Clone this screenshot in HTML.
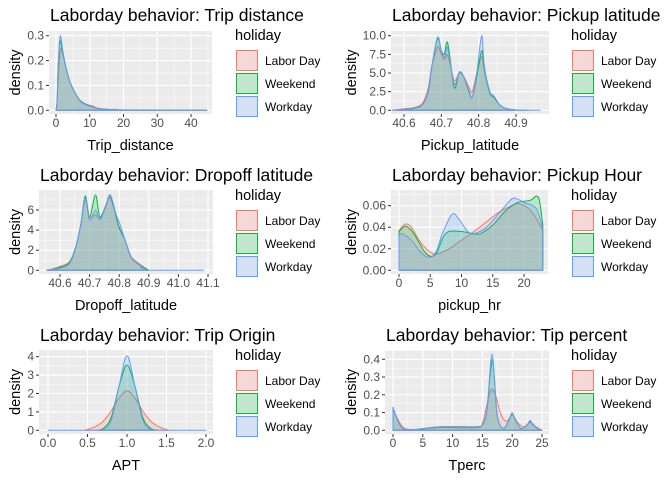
<!DOCTYPE html>
<html><head><meta charset="utf-8"><style>
html,body{margin:0;padding:0;background:#fff}
svg{display:block;font-family:"Liberation Sans",Arial,sans-serif}
</style></head><body>
<svg id="c" width="672" height="480" viewBox="0 0 672 480"></svg>
<script>
// ---- data ----
const tripLabor=[[0,0],[0.3,0.04],[0.7,0.14],[1.1,0.22],[1.5,0.25],[2,0.23],[3,0.17],[4,0.12],[5,0.085],[6,0.06],[7,0.042],[8,0.03],[10,0.02],[11,0.018],[12,0.01],[15,0.004],[18,0.004],[19,0.002],[44.7,0]];
const tripWeekend=[[0,0],[0.3,0.03],[0.6,0.16],[1,0.26],[1.3,0.28],[1.6,0.26],[2,0.23],[3,0.17],[4,0.12],[5,0.088],[6,0.062],[7,0.042],[8,0.03],[10,0.017],[12,0.009],[15,0.004],[20,0.001],[44.7,0]];
const tripWorkday=[[0,0],[0.3,0.03],[0.6,0.16],[1,0.27],[1.3,0.30],[1.6,0.28],[2,0.24],[3,0.17],[4,0.12],[5,0.085],[6,0.06],[7,0.04],[8,0.028],[10,0.016],[12,0.009],[15,0.004],[20,0.001],[30,0],[44.7,0]];
const pickLabor=[[40.57,0],[40.6,0.2],[40.63,0.4],[40.65,1],[40.665,3],[40.675,6],[40.69,8.5],[40.70,7.5],[40.708,6.8],[40.715,7.5],[40.722,6.5],[40.735,4],[40.748,5],[40.76,4.5],[40.775,3],[40.783,2.5],[40.795,5],[40.808,7.2],[40.815,5.5],[40.83,2.3],[40.84,1.8],[40.855,0.8],[40.87,0.3],[40.895,0]];
const pickWeekend=[[40.57,0],[40.6,0.1],[40.63,0.3],[40.65,0.8],[40.665,2.5],[40.675,6],[40.69,9.6],[40.70,8],[40.708,7.5],[40.715,9.2],[40.722,7.5],[40.735,3],[40.748,5.1],[40.76,4.5],[40.775,2.3],[40.783,1.8],[40.795,4.5],[40.808,8],[40.815,5.5],[40.83,2.3],[40.84,1.8],[40.855,0.8],[40.87,0.3],[40.9,0.03],[40.93,0]];
const pickWorkday=[[40.57,0],[40.6,0.1],[40.63,0.3],[40.65,0.8],[40.665,2.5],[40.675,6],[40.69,9.8],[40.70,8],[40.708,7],[40.715,8.5],[40.722,7],[40.735,3.5],[40.748,5.1],[40.76,4.5],[40.775,2.5],[40.783,1.8],[40.795,5],[40.808,10],[40.815,6],[40.83,2.5],[40.84,2],[40.855,0.8],[40.87,0.3],[40.9,0.05],[40.965,0]];
const dropLabor=[[40.555,0],[40.58,0.2],[40.6,0.4],[40.63,0.8],[40.65,2],[40.67,4.5],[40.685,7],[40.70,5.3],[40.72,5.5],[40.735,5.2],[40.755,6.4],[40.77,7.2],[40.79,5.3],[40.8,4.3],[40.82,3],[40.84,1.4],[40.87,0.6],[40.9,0]];
const dropWeekend=[[40.555,0],[40.58,0.1],[40.6,0.3],[40.63,0.7],[40.65,2],[40.67,4.5],[40.685,7.4],[40.70,5.3],[40.72,7.5],[40.735,5.3],[40.755,6.5],[40.77,7.4],[40.79,5.3],[40.8,4.2],[40.82,3],[40.84,1.3],[40.87,0.5],[40.9,0]];
const dropWorkday=[[40.555,0],[40.58,0.1],[40.6,0.2],[40.63,0.6],[40.65,1.9],[40.67,4.5],[40.685,7.2],[40.70,5],[40.72,6],[40.735,5],[40.755,6.4],[40.77,7.5],[40.79,5.5],[40.8,4.8],[40.82,3],[40.84,1.3],[40.87,0.5],[40.9,0],[41.085,0]];
const hrLabor=[[0,0.037],[1,0.043],[2,0.040],[3,0.030],[4,0.022],[5,0.017],[6,0.015],[8,0.020],[10,0.028],[12,0.036],[14,0.045],[16,0.054],[18,0.060],[19,0.062],[20,0.060],[21,0.056],[22,0.048],[23,0.037]];
const hrWeekend=[[0,0.036],[1,0.041],[2,0.037],[3,0.028],[4,0.018],[5,0.013],[6,0.016],[7,0.030],[8,0.036],[10,0.036],[12,0.034],[13,0.034],[15,0.042],[17,0.055],[19,0.063],[21,0.065],[22,0.069],[22.5,0.064],[23,0.042]];
const hrWorkday=[[0,0.032],[0.5,0.034],[2,0.028],[3,0.020],[4,0.014],[5,0.012],[6,0.018],[7,0.035],[8.5,0.052],[9.5,0.048],[11,0.036],[12,0.034],[14,0.040],[16,0.053],[18,0.066],[19,0.066],[20,0.063],[22,0.057],[23,0.038]];
const aptLabor=[[0.47,0],[0.5,0.05],[0.6,0.2],[0.7,0.5],[0.8,1.05],[0.9,1.75],[1,2.15],[1.1,1.75],[1.2,1.05],[1.3,0.5],[1.4,0.2],[1.5,0.05],[1.53,0]];
const aptWeekend=[[0.62,0],[0.7,0.1],[0.8,0.7],[0.9,2.4],[1,3.55],[1.1,2.4],[1.2,0.7],[1.3,0.1],[1.38,0]];
const aptWorkday=[[0,0],[0.65,0],[0.7,0.05],[0.8,0.55],[0.9,2.4],[1,4.05],[1.1,2.4],[1.2,0.55],[1.3,0.05],[1.35,0],[2,0]];
const tipLabor=[[0,0.12],[1,0.05],[2,0.01],[4,0.005],[8,0.015],[14,0.015],[15,0.04],[15.8,0.15],[16.5,0.23],[17.2,0.2],[18,0.1],[19,0.05],[20,0.085],[21,0.04],[22,0.02],[23,0.045],[24,0.02],[25,0]];
const tipWeekend=[[0,0.12],[0.5,0.08],[1,0.04],[1.5,0.015],[2,0.005],[4,0.005],[8,0.02],[14,0.02],[15,0.03],[15.7,0.1],[16.2,0.28],[16.7,0.40],[17,0.3],[17.5,0.08],[18.5,0.01],[19.5,0.06],[20,0.1],[20.5,0.06],[21.5,0.01],[22.5,0.03],[23,0.05],[23.5,0.03],[24.5,0.005],[25,0]];
const tipWorkday=[[0,0.13],[0.5,0.08],[1,0.04],[1.5,0.015],[2,0.005],[4,0.005],[8,0.02],[14,0.02],[15,0.03],[15.7,0.1],[16.2,0.3],[16.6,0.43],[17,0.3],[17.5,0.08],[18.5,0.01],[19.5,0.06],[20,0.1],[20.5,0.06],[21.5,0.01],[22.5,0.03],[23,0.055],[23.5,0.03],[24.5,0.005],[25,0]];
const xt1=[0,10,20,30,40], yt1=[0,0.1,0.2,0.3], xl1=["0","10","20","30","40"], yl1=["0.0","0.1","0.2","0.3"];
const xt2=[40.6,40.7,40.8,40.9], yt2=[0,2.5,5,7.5,10], xl2=["40.6","40.7","40.8","40.9"], yl2=["0.0","2.5","5.0","7.5","10.0"];
const xt3=[40.6,40.7,40.8,40.9,41.0,41.1], yt3=[0,2,4,6], xl3=["40.6","40.7","40.8","40.9","41.0","41.1"], yl3=["0","2","4","6"];
const xt4=[0,5,10,15,20], yt4=[0,0.02,0.04,0.06], xl4=["0","5","10","15","20"], yl4=["0.00","0.02","0.04","0.06"];
const xt5=[0,0.5,1,1.5,2], yt5=[0,1,2,3,4], xl5=["0.0","0.5","1.0","1.5","2.0"], yl5=["0","1","2","3","4"];
const xt6=[0,5,10,15,20,25], yt6=[0,0.1,0.2,0.3,0.4], xl6=["0","5","10","15","20","25"], yl6=["0.0","0.1","0.2","0.3","0.4"];
const legendLabels=["Labor Day","Weekend","Workday"];
// ---- layout ----
const colors=["#F8766D","#00BA38","#619CFF"];
const panels=[
 {id:"trip-distance",title:"Laborday behavior: Trip distance",xlab:"Trip_distance",box:[49,212,31,114],xm:[0,56,40,191],ym:[0,110.3,0.3,35.7],xt:xt1,yt:yt1,xl:xl1,yl:yl1,s:[tripLabor,tripWeekend,tripWorkday],lx:235,row:0},
 {id:"pickup-latitude",title:"Laborday behavior: Pickup latitude",xlab:"Pickup_latitude",box:[391,549,31,114],xm:[40.6,404,40.9,516],ym:[0,110.3,10,35.7],xt:xt2,yt:yt2,xl:xl2,yl:yl2,s:[pickLabor,pickWeekend,pickWorkday],lx:571,row:0},
 {id:"dropoff-latitude",title:"Laborday behavior: Dropoff latitude",xlab:"Dropoff_latitude",box:[39,213,190,274],xm:[40.6,60,41.1,208],ym:[0,270.3,6,210],xt:xt3,yt:yt3,xl:xl3,yl:yl3,s:[dropLabor,dropWeekend,dropWorkday],lx:235,row:1},
 {id:"pickup-hour",title:"Laborday behavior: Pickup Hour",xlab:"pickup_hr",box:[391,548,190,274],xm:[0,399,20,524],ym:[0,270.3,0.06,205.7],xt:xt4,yt:yt4,xl:xl4,yl:yl4,s:[hrLabor,hrWeekend,hrWorkday],lx:571,row:1},
 {id:"trip-origin",title:"Laborday behavior: Trip Origin",xlab:"APT",box:[39,213,350,434],xm:[0,48,2,206],ym:[0,430.3,4,356.7],xt:xt5,yt:yt5,xl:xl5,yl:yl5,s:[aptLabor,aptWeekend,aptWorkday],lx:235,row:2},
 {id:"tip-percent",title:"Laborday behavior: Tip percent",xlab:"Tperc",box:[385,549,350,434],xm:[0,393,25,542],ym:[0,430.3,0.4,359.3],xt:xt6,yt:yt6,xl:xl6,yl:yl6,s:[tipLabor,tipWeekend,tipWorkday],lx:571,row:2}
];
const NS="http://www.w3.org/2000/svg";
const svg=document.getElementById("c");
function mk(tag,attrs,parent,txt){const e=document.createElementNS(NS,tag);for(const k in attrs)e.setAttribute(k,attrs[k]);if(txt!==undefined)e.textContent=txt;(parent||svg).appendChild(e);return e;}
function lin(m){return v=>m[1]+(v-m[0])*(m[3]-m[1])/(m[2]-m[0]);}
function smooth(P,y0){ // Catmull-Rom to bezier, clamped to baseline
 let d="M"+P[0][0].toFixed(1)+","+P[0][1].toFixed(1);
 for(let i=0;i<P.length-1;i++){
  const p0=P[Math.max(0,i-1)],p1=P[i],p2=P[i+1],p3=P[Math.min(P.length-1,i+2)];
  const c1x=p1[0]+(p2[0]-p0[0])/6, c1y=Math.min(y0,p1[1]+(p2[1]-p0[1])/6);
  const c2x=p2[0]-(p3[0]-p1[0])/6, c2y=Math.min(y0,p2[1]-(p3[1]-p1[1])/6);
  d+=" C"+c1x.toFixed(1)+","+c1y.toFixed(1)+" "+c2x.toFixed(1)+","+c2y.toFixed(1)+" "+p2[0].toFixed(1)+","+p2[1].toFixed(1);
 }
 return d;
}
panels.forEach(p=>{
 const g=mk("g",{});
 
 
 const [L,R,T,B]=p.box, sx=lin(p.xm), sy=lin(p.ym), oy=p.row*160;
 const bg=mk("rect",{x:L,y:T,width:R-L,height:B-T,fill:"#EBEBEB"},g);
 
 
 const xs=p.xt, ys=p.yt;
 const dx=xs[1]-xs[0], dy=ys[1]-ys[0];
 const xmin=[xs[0]-dx/2,...xs.slice(0,-1).map((v,i)=>(v+xs[i+1])/2),xs[xs.length-1]+dx/2];
 const ymin=[ys[0]-dy/2,...ys.slice(0,-1).map((v,i)=>(v+ys[i+1])/2),ys[ys.length-1]+dy/2];
 xmin.forEach(v=>{const x=sx(v);if(x>L&&x<R)mk("line",{x1:x,x2:x,y1:T,y2:B,stroke:"#fff","stroke-width":0.5},g);});
 ymin.forEach(v=>{const y=sy(v);if(y>T&&y<B)mk("line",{x1:L,x2:R,y1:y,y2:y,stroke:"#fff","stroke-width":0.5},g);});
 xs.forEach((v,i)=>{const x=sx(v);mk("line",{x1:x,x2:x,y1:T,y2:B,stroke:"#fff","stroke-width":1.1},g);
  mk("line",{x1:x,x2:x,y1:B,y2:B+3,stroke:"#333","stroke-width":1},g);
  const t=mk("text",{x:x,y:B+13,"font-size":12,fill:"#4D4D4D","text-anchor":"middle"},g,p.xl[i]);
  });
 ys.forEach((v,i)=>{const y=sy(v);mk("line",{x1:L,x2:R,y1:y,y2:y,stroke:"#fff","stroke-width":1.1},g);
  mk("line",{x1:L-3,x2:L,y1:y,y2:y,stroke:"#333","stroke-width":1},g);
  const t=mk("text",{x:L-5,y:y+4,"font-size":12,fill:"#4D4D4D","text-anchor":"end"},g,p.yl[i]);
  });
 p.s.forEach((d,k)=>{
  const P=d.map(q=>[sx(q[0]),sy(q[1])]);
  const y0=sy(0);
  const x0=P[0][0], x1=P[P.length-1][0];
  const body=smooth(P,y0);
  const full="M"+x0.toFixed(1)+","+y0.toFixed(1)+" L"+body.slice(1)+" L"+x1.toFixed(1)+","+y0.toFixed(1)+" Z";
  const area=mk("path",{d:full,fill:colors[k],"fill-opacity":0.2,stroke:"none"},g);
  
  
  const ln=mk("path",{d:full,fill:"none",stroke:colors[k],"stroke-width":1,"stroke-linejoin":"round"},g);
  
  
 });
 const tt=mk("text",{x:L+1,y:21+oy,"font-size":17.5,fill:"#000"},g,p.title);
 
 const xa=mk("text",{x:(L+R)/2,y:150+oy,"font-size":14.5,fill:"#000","text-anchor":"middle"},g,p.xlab);
 
 const cy=(T+B)/2, cx=(p.lx>300?336:0)+20;
 const ya=mk("text",{x:cx,y:cy,"font-size":14.5,fill:"#000","text-anchor":"middle",transform:"rotate(-90 "+cx+" "+cy+")"},g,"density");
 
 const lg=mk("g",{},g);
 
 const lt=mk("text",{x:p.lx,y:40+oy,"font-size":14.5,fill:"#000"},lg,"holiday");
 
 legendLabels.forEach((lab,k)=>{
  const ky=50+oy+k*23;
  const e=mk("g",{},lg);
  
  mk("rect",{x:p.lx+1,y:ky,width:22,height:21,fill:"#F2F2F2"},e);
  mk("rect",{x:p.lx+1.5,y:ky+0.5,width:21,height:20,fill:colors[k],"fill-opacity":0.2,stroke:colors[k],"stroke-width":1},e);
  mk("text",{x:p.lx+30,y:ky+15,"font-size":12,fill:"#000"},e,lab);
 });
});
</script>
</body></html>
